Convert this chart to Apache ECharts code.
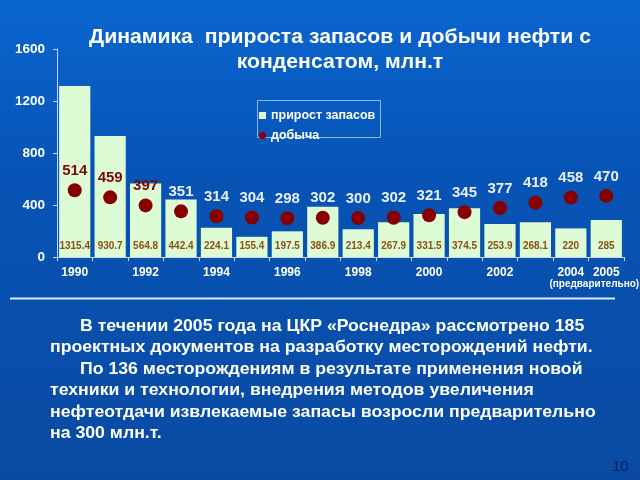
<!DOCTYPE html>
<html><head><meta charset="utf-8">
<script src="https://cdn.jsdelivr.net/npm/echarts@6/dist/echarts.min.js"></script>
<style>html,body{margin:0;padding:0;}#c{width:640px;height:480px;}</style>
</head><body><div id="c"></div>
<script>
const years = ['1990','1991','1992','1993','1994','1995','1996','1997','1998','1999','2000','2001','2002','2003','2004','2005'];
const reserveGrowth = [1315.4, 930.7, 564.8, 442.4, 224.1, 155.4, 197.5, 386.9, 213.4, 267.9, 331.5, 374.5, 253.9, 268.1, 220, 285];
const production = [514, 459, 397, 351, 314, 304, 298, 302, 300, 302, 321, 345, 377, 418, 458, 470];
const yTicks = [0, 400, 800, 1200, 1600];
const darkLabelYears = ['1990','1991','1992'];
const titleLines = ['Динамика  прироста запасов и добычи нефти с', 'конденсатом, млн.т'];
const bodyLines = [
  'В течении 2005 года на ЦКР «Роснедра» рассмотрено 185',
  'проектных документов на разработку месторождений нефти.',
  'По 136 месторождениям в результате применения новой',
  'техники и технологии, внедрения методов увеличения',
  'нефтеотдачи извлекаемые запасы возросли предварительно',
  'на 300 млн.т.'
];
const bodyIndent = [true, false, true, false, false, false];
const pageNo = '10';
const prelim = '(предварительно)';

const chart = echarts.init(document.getElementById('c'), null, {renderer:'canvas'});
const font = '"Liberation Sans", Arial, sans-serif';

const graphics = [];
titleLines.forEach((t, i) => {
  graphics.push({type:'text', x:340, y:37 + i*25, scaleX:1.06, style:{text:t, fill:'#ffffff', font:'bold 20px ' + font, align:'center', verticalAlign:'middle'}});
});
graphics.push({type:'line', shape:{x1:10, y1:298.5, x2:615, y2:298.5}, style:{stroke:'#dfe9f6', lineWidth:2}});
bodyLines.forEach((t, i) => {
  graphics.push({type:'text', x: bodyIndent[i] ? 80 : 50, y: 326 + i*21.5, scaleX:1.04,
    style:{text:t, fill:'#ffffff', font:'bold 17px ' + font, verticalAlign:'middle'}});
});
graphics.push({type:'text', x:612, y:467, style:{text:pageNo, fill:'#0a2358', font:'15px ' + font, verticalAlign:'middle'}});
graphics.push({type:'rect', shape:{x:257.5, y:100.5, width:123, height:37}, style:{fill:'rgba(0,0,0,0)', stroke:'#8fb8ec', lineWidth:1}});

chart.setOption({
  backgroundColor: {type:'linear', x:0, y:0, x2:0, y2:1, colorStops:[
    {offset:0, color:'#0a66cf'}, {offset:0.35, color:'#0754b6'}, {offset:1, color:'#0a4aa2'}]},
  animation:false,
  textStyle:{fontFamily: font},
  grid:{left:57, right:16, top:49, bottom:223, containLabel:false, outerBoundsMode:'none'},
  legend:{
    left:254, top:104, orient:'vertical', itemGap:7, itemWidth:7, itemHeight:7,
    textStyle:{color:'#ffffff', fontWeight:'bold', fontSize:12.5, fontFamily: font},
    data:[{name:'прирост запасов', icon:'rect'}, {name:'добыча', icon:'circle'}]
  },
  xAxis:{
    type:'category', data:years,
    axisLine:{lineStyle:{color:'#c8d8ee', width:1}},
    axisTick:{show:true, alignWithLabel:false, interval:0, length:4, lineStyle:{color:'#c8d8ee'}},
    axisLabel:{
      interval:0, hideOverlap:false, showMaxLabel:true,
      color:'#ffffff', fontWeight:'bold', fontSize:12, margin:10,
      formatter:(v, idx) => v === '2005' ? '{y|2005}\n{s|' + prelim + '}' : (idx % 2 === 0 ? v : ''),
      rich:{y:{color:'#ffffff', fontWeight:'bold', fontSize:12, lineHeight:11},
            s:{color:'#ffffff', fontWeight:'bold', fontSize:10, lineHeight:13, padding:[0, 24, 0, 0]}}
    }
  },
  yAxis:{
    type:'value', min:0, max:1600, interval:400,
    axisLine:{show:true, lineStyle:{color:'#c8d8ee'}},
    axisTick:{show:true, length:4, lineStyle:{color:'#c8d8ee'}},
    splitLine:{show:false},
    axisLabel:{color:'#ffffff', fontWeight:'bold', fontSize:13.5, margin:12,
      formatter:(v) => yTicks.includes(v) ? String(v) : ''}
  },
  series:[
    {name:'прирост запасов', type:'bar', data:reserveGrowth, barCategoryGap:'12%',
      itemStyle:{color:'#ddfcd6'},
      label:{show:true, position:'insideBottom', distance:6, color:'#8a4f12', fontWeight:'bold', fontSize:10,
        formatter:(p) => String(p.value)}
    },
    {name:'добыча', type:'scatter', symbol:'circle', symbolSize:14,
      data: production.map((v, i) => darkLabelYears.includes(years[i]) ? {value:v, label:{color:'#7a0a0a'}} : v),
      itemStyle:{color:'#870000', opacity:1}, z:5,
      label:{show:true, position:'top', distance:5, fontWeight:'bold', fontSize:15,
        formatter:(p) => String(p.value), color:'#e6f0ff'}
    }
  ],
  graphic: graphics
});
</script></body></html>
